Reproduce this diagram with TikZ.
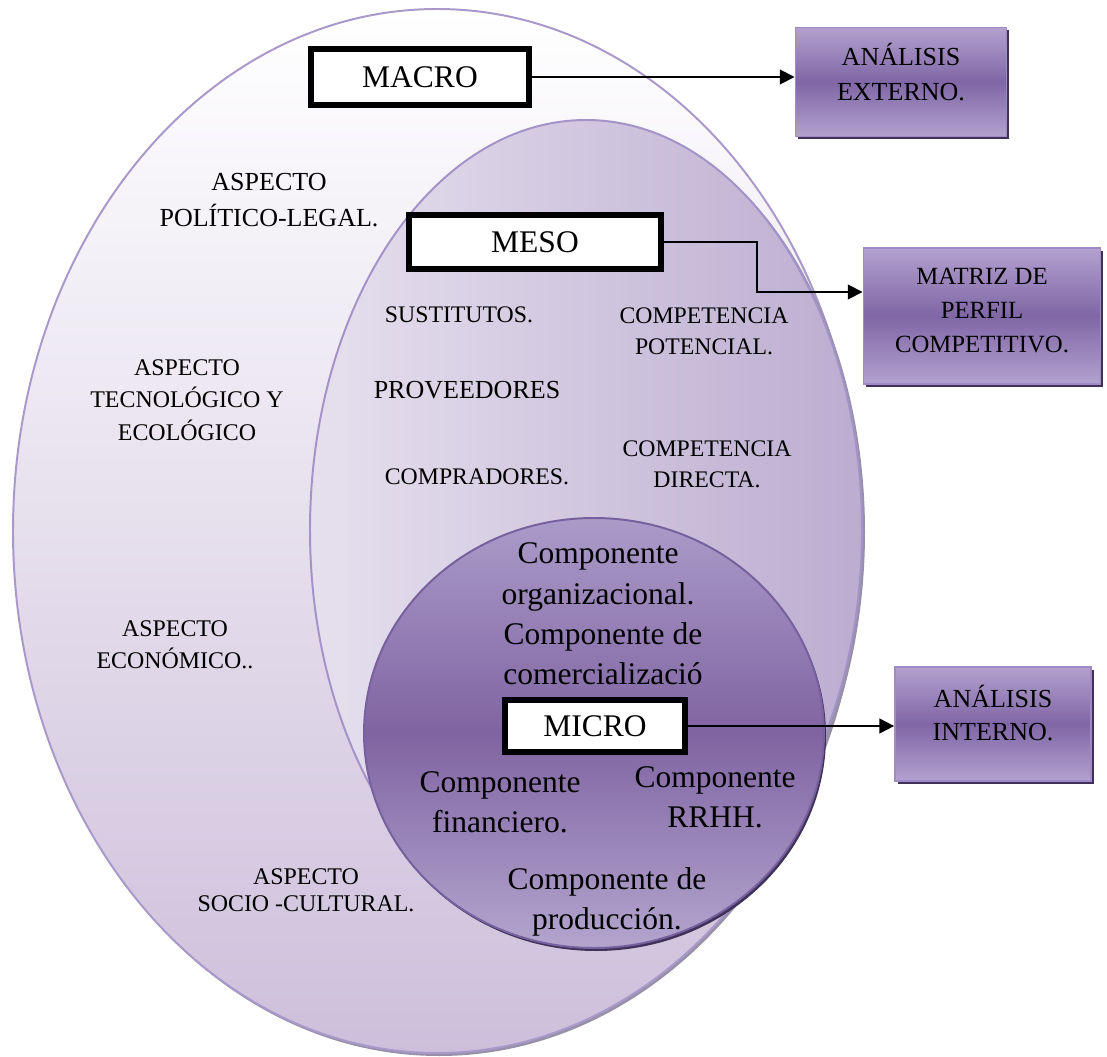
\documentclass[tikz,border=0pt]{standalone}
\usepackage{fontspec}
\setmainfont{Liberation Serif}
\usetikzlibrary{arrows.meta,shadows}

\definecolor{macroedge}{HTML}{A999CB}
\definecolor{macrofill}{HTML}{CDBFDB}
\definecolor{mesoedge}{HTML}{A393C8}
\definecolor{mesolight}{HTML}{E6E0EE}
\definecolor{mesodark}{HTML}{BBADD0}
\definecolor{microedge}{HTML}{76609E}
\definecolor{microtop}{HTML}{AB9BC9}
\definecolor{microdark}{HTML}{8064A2}
\definecolor{microbot}{HTML}{B3A5CE}
\definecolor{boxlight}{HTML}{B3A1CE}
\definecolor{boxdark}{HTML}{8066A6}
\definecolor{boxedge}{HTML}{9F8AC6}
\definecolor{boxshade}{HTML}{3F3158}
\definecolor{rimshade}{HTML}{9890A8}

\begin{document}
\begin{tikzpicture}[x=0.025cm, y=-0.025cm,
        levelbox/.style={draw, line width=4.3pt, fill=white, inner sep=0pt,
            font=\fontsize{22.4}{27}\selectfont},
        outbox/.style={draw=boxedge, line width=1.2pt, top color=boxlight,
            bottom color=boxlight, middle color=boxdark, align=center, inner sep=0pt,
            drop shadow={shadow xshift=2pt, shadow yshift=-2pt, fill=boxshade, opacity=1}},
        aspect/.style={align=center, font=\fontsize{17}{23}\selectfont},
        factor/.style={align=center, font=\fontsize{16.9}{22}\selectfont},
        comp/.style={align=center, font=\fontsize{22.4}{28.5}\selectfont},
        link/.style={line width=1.4pt, -{Triangle[length=10.5pt, width=10.5pt]}}]
        \useasboundingbox (0,0) rectangle (1107,1057);

        % macro, meso and micro levels
        \fill [rimshade] (439,534) ellipse [x radius=424, y radius=522];
        \draw [macroedge, line width=1.4pt, top color=white, bottom color=macrofill]
            (437,531) ellipse [x radius=424, y radius=522];
        \fill [rimshade] (589,532) ellipse [x radius=276, y radius=410];
        \draw [mesoedge, line width=1.4pt, left color=mesolight, right color=mesodark]
            (586,530) ellipse [x radius=276, y radius=410];
        \fill [boxshade] (596,736) ellipse [x radius=230, y radius=215];
        \draw [microedge, line width=1.4pt, top color=microtop, bottom color=microbot,
            middle color=microdark] (594,733) ellipse [x radius=230, y radius=215];

        \node [levelbox, minimum width=5.43cm, minimum height=1.4cm] (macro) at (420,77) {MACRO};
        \node [levelbox, minimum width=6.28cm, minimum height=1.35cm] (meso) at (535,242) {MESO};
        \node [levelbox, minimum width=4.5cm, minimum height=1.3cm] (micro) at (595,726) {MICRO};

        \node [aspect, font=\fontsize{18.5}{25}\selectfont] (politico) at (269,200) {ASPECTO\\POLÍTICO-LEGAL.};
        \node [aspect] (tecno) at (187,400) {ASPECTO\\TECNOLÓGICO Y\\ECOLÓGICO};
        \node [aspect] (economico) at (175,645) {ASPECTO\\ECONÓMICO..};
        \node [aspect, font=\fontsize{17}{19.5}\selectfont] (socio) at (306,890) {ASPECTO\\SOCIO -CULTURAL.};

        \node [factor] (sustitutos) at (459,315) {SUSTITUTOS.};
        \node [factor] (potencial) at (704,331) {COMPETENCIA\\POTENCIAL.};
        \node [factor, font=\fontsize{18.5}{22}\selectfont] (proveedores) at (467,390) {PROVEEDORES};
        \node [factor] (compradores) at (477,477) {COMPRADORES.};
        \node [factor] (directa) at (707,464) {COMPETENCIA\\DIRECTA.};

        \node [comp] (organizacional) at (598,577) {Componente\\organizacional.};
        \node [comp] (comercial) at (603,654) {Componente de\\comercializació};
        \node [comp] (financiero) at (500,802) {Componente\\financiero.};
        \node [comp] (rrhh) at (715,797) {Componente\\RRHH.};
        \node [comp] (produccion) at (607,902) {Componente de\\producción.};

        % results of each analysis
        \node [outbox, minimum width=5.28cm, minimum height=2.73cm, text depth=14pt,
            font=\fontsize{18.5}{25}\selectfont] (externo) at (901,82) {ANÁLISIS\\EXTERNO.};
        \node [outbox, minimum width=5.93cm, minimum height=3.4cm, text depth=8pt,
            font=\fontsize{17.6}{24}\selectfont] (matriz) at (982,316) {MATRIZ DE\\PERFIL\\COMPETITIVO.};
        \node [outbox, minimum width=4.9cm, minimum height=2.85cm, text depth=16pt,
            font=\fontsize{18.5}{24}\selectfont] (interno) at (993,724) {ANÁLISIS\\INTERNO.};

        \coordinate (turn) at (757,292);
        \draw [link] (macro.east) -- (macro.east -| externo.west);
        \draw [link] (meso.east) -| (turn) -- (turn -| matriz.west);
        \draw [link] (micro.east) -- (micro.east -| interno.west);

    \end{tikzpicture}
\end{document}
